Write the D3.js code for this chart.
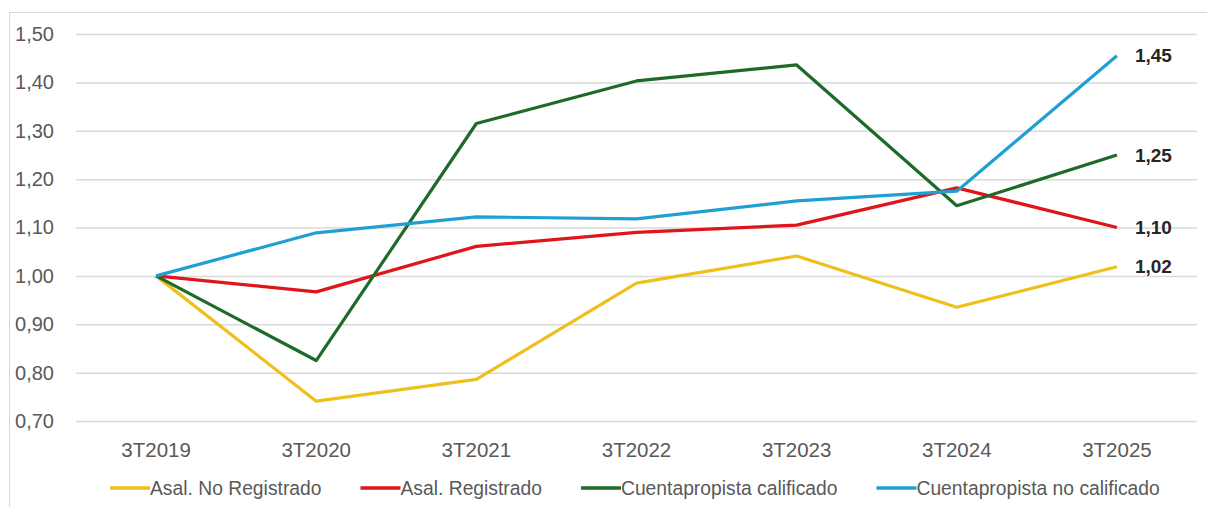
<!DOCTYPE html>
<html><head><meta charset="utf-8">
<script src="https://cdn.jsdelivr.net/npm/d3@7"></script>
<style>body{margin:0;background:#fff;}svg{display:block;font-family:"Liberation Sans",Arial,sans-serif;}</style>
</head><body><svg id="c" width="1207" height="507"></svg>
<script>
const categories = ["3T2019","3T2020","3T2021","3T2022","3T2023","3T2024","3T2025"];
const asalNoRegistrado = [1.00,0.741,0.786,0.985,1.041,0.935,1.019];
const asalRegistrado = [1.00,0.967,1.061,1.090,1.105,1.182,1.10];
const cuentaCalificado = [1.00,0.825,1.315,1.403,1.436,1.145,1.25];
const cuentaNoCalificado = [1.00,1.089,1.122,1.118,1.155,1.175,1.455];
const seriesNames = ["Asal. No Registrado","Asal. Registrado","Cuentapropista calificado","Cuentapropista no calificado"];
const endLabels = ["1,02","1,10","1,25","1,45"];
const yTicks = [0.7,0.8,0.9,1.0,1.1,1.2,1.3,1.4,1.5];
const colors = ["#EFBF1C","#E0141B","#1E6A29","#20A0D2"];
const seriesVals = [asalNoRegistrado, asalRegistrado, cuentaCalificado, cuentaNoCalificado];

const svg = d3.select("#c");
svg.append("rect").attr("x",9.5).attr("y",12.5).attr("width",1210).attr("height",510)
  .attr("fill","none").attr("stroke","#d9d9d9").attr("stroke-width",1);

const x = d3.scaleBand().domain(categories).range([76,1197]);
const y = d3.scaleLinear().domain([0.7,1.5]).range([421,34]);
const fmt = v => d3.format(".2f")(v).replace(".",",");

const yAxis = d3.axisLeft(y).tickValues(yTicks).tickSize(-(1197-76)).tickFormat(fmt).tickPadding(22);
const gy = svg.append("g").attr("transform","translate(76,0)").call(yAxis);
gy.select(".domain").remove();
gy.selectAll(".tick line").attr("stroke","#d9d9d9").attr("stroke-width",1.5);
gy.selectAll(".tick text").attr("fill","#595959").style("font-size","20px").attr("x",-22);

const xAxis = d3.axisBottom(x).tickSize(0).tickPadding(0);
const gx = svg.append("g").attr("transform","translate(0,450)").call(xAxis);
gx.select(".domain").remove();
gx.selectAll(".tick text").attr("fill","#595959").style("font-size","20.5px").attr("dy","0.35em");

const line = d3.line().x((d,i)=>x(categories[i])+x.bandwidth()/2).y(d=>y(d));
seriesVals.forEach((vals,k)=>{
  svg.append("path").datum(vals).attr("d",line).attr("fill","none")
    .attr("stroke",colors[k]).attr("stroke-width",3.2).attr("stroke-linejoin","round");
});
seriesVals.forEach((vals,k)=>{
  const last = vals[vals.length-1];
  svg.append("text").attr("x",x(categories[6])+x.bandwidth()/2+18).attr("y",y(last))
    .attr("dy","0.35em").attr("fill","#262626").style("font-size","19px").style("font-weight","bold")
    .text(endLabels[k]);
});

let lx = 110;
const ly = 488;
seriesNames.forEach((n,k)=>{
  svg.append("line").attr("x1",lx).attr("x2",lx+40).attr("y1",ly).attr("y2",ly)
    .attr("stroke",colors[k]).attr("stroke-width",3.5);
  const t = svg.append("text").attr("x",lx+40).attr("y",ly).attr("dy","0.35em")
    .attr("fill","#595959").style("font-size","19.3px").text(n);
  lx += 40 + t.node().getComputedTextLength() + 39;
});
</script></body></html>
